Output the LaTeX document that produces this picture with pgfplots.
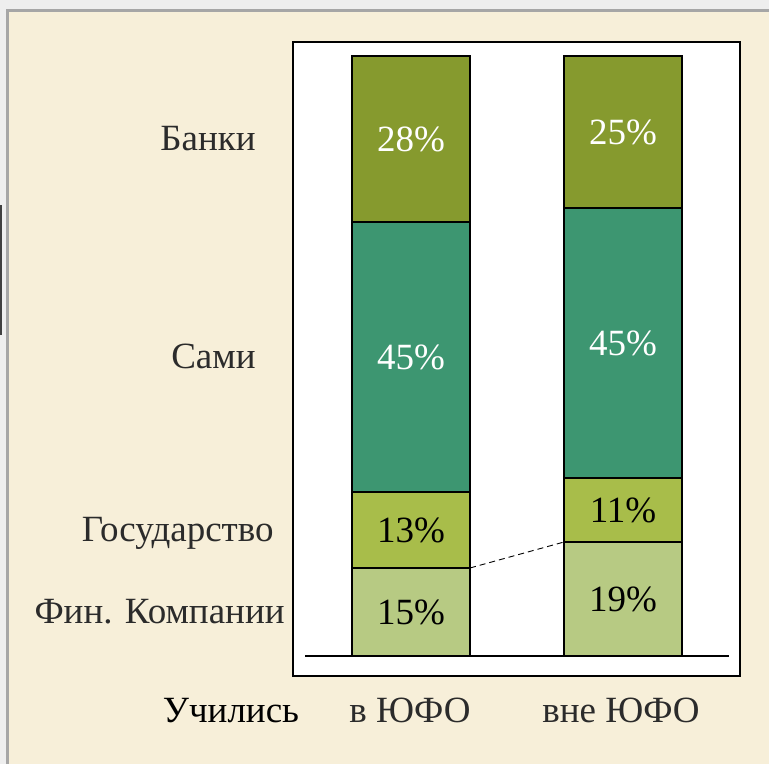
\documentclass[border=0pt]{standalone}
\usepackage{pgfplots}
\pgfplotsset{compat=1.18}
\usepackage{fontspec}
\setmainfont{Liberation Serif}

\definecolor{outercol}{HTML}{EEEEEE}
\definecolor{paper}{HTML}{F7EFD9}
\definecolor{framecol}{HTML}{A6A6A6}
\definecolor{banki}{HTML}{869A2E}
\definecolor{sami}{HTML}{3D9671}
\definecolor{gos}{HTML}{A8BD4A}
\definecolor{fin}{HTML}{B7CA83}
\definecolor{txt}{HTML}{2B2B2B}

\tikzset{lab/.style={font=\fontsize{18.5}{20}\selectfont}}

\begin{document}
\begin{tikzpicture}[x=0.5pt, y=0.5pt]
    % page: 769 x 764 px, 1px = 0.5pt, y counted from the bottom
    \useasboundingbox (0,0) rectangle (769,764);
    \fill[outercol] (0,0) rectangle (769,764);
    \fill[paper] (7,0) rectangle (769,753);
    \draw[framecol, line width=1.5pt] (7,0) -- (7,753) -- (769,753);
    \draw[black!75, line width=1pt] (1,429) -- (1,559);

    \begin{axis}[
        at={(146.5pt,44pt)},
        anchor=south west,
        scale only axis,
        width=223.5pt,
        height=317pt,
        xmin=-0.5566, xmax=1.5519,
        ymin=-3.333, ymax=102.333,
        xtick=\empty,
        ytick=\empty,
        axis line style={line width=1.4pt},
        axis background/.style={fill=white},
        ybar stacked,
        bar width=0.5566,
        clip=false,
    ]
        % bottom to top: Фин. Компании, Государство, Сами, Банки
        \addplot[fill=fin, draw=black, line width=0.9pt]
            coordinates {(0,14.67) (1,19)};
        \addplot[fill=gos, draw=black, line width=0.9pt]
            coordinates {(0,12.67) (1,10.67)};
        \addplot[fill=sami, draw=black, line width=0.9pt]
            coordinates {(0,45) (1,45)};
        \addplot[fill=banki, draw=black, line width=0.9pt]
            coordinates {(0,27.67) (1,25.33)};

        \draw[line width=1pt] (axis cs:-0.5,0) -- (axis cs:1.5,0);
        \draw[densely dashed, line width=0.45pt]
            (axis cs:0.2783,14.67) -- (axis cs:0.7217,19);

        % segment centres, labelled after the axis so they sit on top
        \coordinate (a1) at (axis cs:0,7.33);
        \coordinate (a2) at (axis cs:0,21);
        \coordinate (a3) at (axis cs:0,49.84);
        \coordinate (a4) at (axis cs:0,86.17);
        \coordinate (b1) at (axis cs:1,9.5);
        \coordinate (b2) at (axis cs:1,24.33);
        \coordinate (b3) at (axis cs:1,52.17);
        \coordinate (b4) at (axis cs:1,87.33);
    \end{axis}

    \node[lab, black] at (a1) {15\%};
    \node[lab, black] at (a2) {13\%};
    \node[lab, white] at (a3) {45\%};
    \node[lab, white] at (a4) {28\%};
    \node[lab, black] at (b1) {19\%};
    \node[lab, black] at (b2) {11\%};
    \node[lab, white] at (b3) {45\%};
    \node[lab, white] at (b4) {25\%};

    \node[lab, txt, inner sep=0pt, anchor=base east] at (256,613) {Банки};
    \node[lab, txt, inner sep=0pt, anchor=base east] at (256,395) {Сами};
    \node[lab, txt, inner sep=0pt, anchor=base east] at (274,222) {Государство};
    \node[lab, txt, inner sep=0pt, anchor=base east] at (285,140) {Фин. Компании};
    \node[lab, black, inner sep=0pt, anchor=base] at (231,41) {Учились};
    \node[lab, txt, inner sep=0pt, anchor=base] at (410,41) {в ЮФО};
    \node[lab, txt, inner sep=0pt, anchor=base] at (621,41) {вне ЮФО};
\end{tikzpicture}
\end{document}
